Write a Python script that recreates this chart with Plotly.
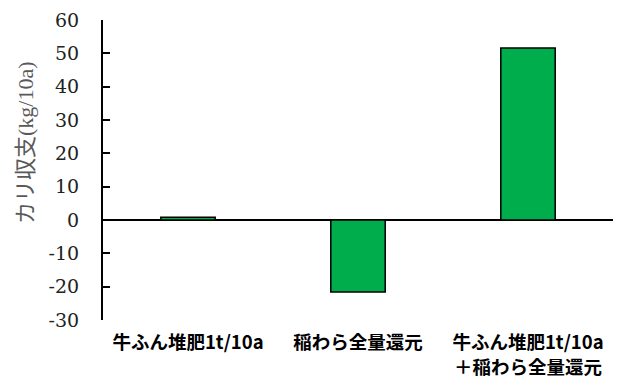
import plotly.graph_objects as go

categories = ["牛ふん堆肥1t/10a", "稲わら全量還元", "牛ふん堆肥1t/10a＋稲わら全量還元"]
cat_line1 = ["牛ふん堆肥1t/10a", "稲わら全量還元", "牛ふん堆肥1t/10a"]
cat_line2 = ["", "", "＋稲わら全量還元"]
values = [0.8, -21.6, 51.6]
tick_vals = [-30, -20, -10, 0, 10, 20, 30, 40, 50, 60]
tick_text = [str(v) for v in tick_vals]

fig = go.Figure(go.Bar(
    x=categories, y=values,
    marker=dict(color="#00AD4C", line=dict(color="black", width=1.5)),
))

annotations = [dict(
    text="カリ収支(kg/10a)", textangle=-90,
    xref="paper", yref="paper", x=0, y=0.59, xshift=-78,
    xanchor="center", yanchor="middle", showarrow=False,
    font=dict(family="Liberation Serif, Noto Sans CJK JP", size=22, color="#595959"),
)]
for c, t in zip(categories, cat_line2):
    if t:
        annotations.append(dict(
            text=t, xref="x", yref="paper", x=c, y=0, yshift=-61,
            xanchor="center", yanchor="bottom", showarrow=False,
            font=dict(family="Noto Sans CJK JP", size=18.5, color="black", weight="bold"),
        ))

fig.update_layout(
    width=618, height=381,
    margin=dict(l=103, r=5, t=20, b=61),
    paper_bgcolor="white", plot_bgcolor="white",
    bargap=0.68,
    showlegend=False,
    xaxis=dict(
        showline=False, showgrid=False, ticks="", automargin=False,
        tickvals=categories, ticktext=cat_line1,
        tickfont=dict(family="Noto Sans CJK JP", size=18.5, color="black", weight="bold"),
        ticklabelstandoff=9,
    ),
    yaxis=dict(
        range=[-30, 60], tickvals=tick_vals, ticktext=tick_text, automargin=False,
        showline=True, linecolor="black", linewidth=2,
        ticks="inside", ticklen=7, tickwidth=2, tickcolor="black",
        showgrid=False,
        zeroline=True, zerolinecolor="black", zerolinewidth=2,
        tickfont=dict(family="DejaVu Serif", size=19, color="#222222"),
        ticklabelstandoff=18,
    ),
    annotations=annotations,
)

fig.write_html("out.html")
